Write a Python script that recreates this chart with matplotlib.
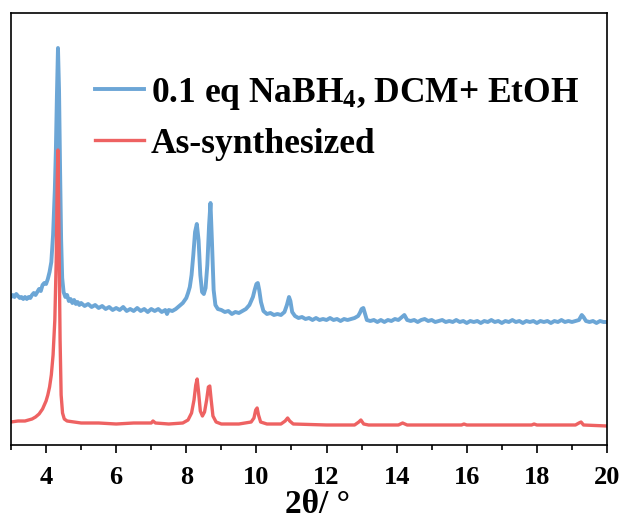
import matplotlib
matplotlib.use("Agg")
import matplotlib.pyplot as plt
from matplotlib.ticker import MultipleLocator
import numpy as np

# --------------------------------------------------------------------------------------------------
# XRD patterns (intensity in arbitrary units, stacked)
# --------------------------------------------------------------------------------------------------

blue_label = "0.1 eq NaBH$_4$, DCM+ EtOH"
red_label = "As-synthesized"

blue_2theta = [
    3.00, 3.05, 3.10, 3.15, 3.20, 3.25, 3.30, 3.35, 3.40, 3.45, 3.50, 3.55, 3.60, 3.65, 3.70,
    3.75, 3.80, 3.85, 3.90, 3.95, 4.00, 4.05, 4.10, 4.15, 4.20, 4.25, 4.28, 4.31, 4.34, 4.37,
    4.40, 4.43, 4.46, 4.50, 4.55, 4.60, 4.65, 4.70, 4.75, 4.80, 4.85, 4.90, 4.95, 5.00, 5.10,
    5.20, 5.30, 5.40, 5.50, 5.60, 5.70, 5.80, 5.90, 6.00, 6.10, 6.20, 6.30, 6.40, 6.50, 6.60,
    6.70, 6.80, 6.90, 7.00, 7.10, 7.20, 7.30, 7.40, 7.45, 7.50, 7.60, 7.70, 7.80, 7.90, 8.00,
    8.05, 8.10, 8.15, 8.20, 8.25, 8.30, 8.35, 8.40, 8.45, 8.50, 8.55, 8.60, 8.65, 8.69, 8.73,
    8.78, 8.83, 8.90, 9.00, 9.10, 9.20, 9.30, 9.40, 9.50, 9.60, 9.70, 9.80, 9.90, 9.95, 10.00,
    10.04, 10.08, 10.13, 10.20, 10.30, 10.40, 10.50, 10.60, 10.70, 10.80, 10.87, 10.93, 10.97,
    11.02, 11.10, 11.20, 11.30, 11.40, 11.50, 11.60, 11.70, 11.80, 11.90, 12.00, 12.10, 12.20,
    12.30, 12.40, 12.50, 12.60, 12.70, 12.80, 12.90, 12.95, 13.00, 13.05, 13.10, 13.15, 13.25,
    13.35, 13.45, 13.55, 13.65, 13.75, 13.85, 13.95, 14.05, 14.15, 14.22, 14.30, 14.40, 14.50,
    14.60, 14.70, 14.80, 14.90, 15.00, 15.10, 15.20, 15.30, 15.40, 15.50, 15.60, 15.70, 15.80,
    15.90, 16.00, 16.10, 16.20, 16.30, 16.40, 16.50, 16.60, 16.70, 16.80, 16.90, 17.00, 17.10,
    17.20, 17.30, 17.40, 17.50, 17.60, 17.70, 17.80, 17.90, 18.00, 18.10, 18.20, 18.30, 18.40,
    18.50, 18.60, 18.70, 18.80, 18.90, 19.00, 19.10, 19.20, 19.28, 19.33, 19.40, 19.50, 19.60,
    19.70, 19.80, 19.90, 20.00,
]
blue_counts = [
    148, 150, 148, 151, 149, 147, 148, 146, 148, 146, 148, 147, 150, 152, 150,
    153, 156, 154, 160, 162, 161, 166, 173, 183, 210, 255, 295, 350, 397, 355,
    275, 205, 167, 153, 148, 150, 144, 146, 142, 145, 141, 143, 140, 142, 139,
    141, 138, 140, 137, 139, 136, 138, 135, 137, 135, 138, 134, 136, 134, 137,
    134, 136, 133, 136, 134, 136, 133, 135, 131, 135, 134, 136, 139, 142, 147,
    152, 158, 170, 190, 213, 221, 205, 170, 153, 151, 157, 180, 220, 242, 205,
    155, 140, 136, 135, 133, 134, 131, 133, 132, 134, 136, 140, 148, 155, 161,
    162, 155, 143, 134, 131, 132, 130, 131, 130, 133, 140, 148, 144,
    133, 129, 127, 128, 126, 127, 125, 127, 125, 126, 125, 127, 125,
    126, 124, 126, 125, 126, 127, 129, 132, 136, 137, 131, 125, 124,
    125, 123, 125, 123, 125, 124, 126, 125, 128, 130, 125, 124, 125,
    123, 125, 126, 124, 125, 123, 124, 125, 123, 124, 123, 125, 123,
    124, 122, 124, 123, 124, 122, 124, 123, 125, 123, 124, 122, 124,
    123, 125, 123, 124, 122, 124, 123, 124, 122, 124, 123, 124, 122,
    124, 123, 125, 123, 124, 123, 124, 125, 130, 128, 124, 123, 124,
    122, 124, 123, 123,
]

red_2theta = [
    3.00, 3.20, 3.40, 3.60, 3.70, 3.80, 3.90, 4.00, 4.05, 4.10, 4.15, 4.20, 4.25, 4.29, 4.32,
    4.34, 4.37, 4.40, 4.43, 4.47, 4.52, 4.60, 4.80, 5.00, 5.50, 6.00, 6.50, 7.00, 7.05, 7.12,
    7.50, 7.90, 8.05, 8.15, 8.22, 8.27, 8.31, 8.35, 8.40, 8.46, 8.52, 8.58, 8.63, 8.67, 8.71,
    8.76, 8.85, 9.00, 9.50, 9.85, 9.93, 9.98, 10.02, 10.06, 10.12, 10.30, 10.70, 10.82, 10.89,
    10.95, 11.05, 12.00, 12.80, 12.92, 12.98, 13.06, 13.20, 14.05, 14.17, 14.30, 15.00, 15.85,
    15.92, 16.00, 17.00, 17.85, 17.92, 18.00, 19.10, 19.20, 19.26, 19.33, 20.00,
]
red_counts = [
    23, 24, 24, 26, 28, 31, 36, 44, 50, 58, 70, 90, 125, 185, 265,
    295, 205, 105, 50, 32, 26, 24, 23, 22, 22, 21, 22, 22, 24, 22,
    21, 22, 25, 32, 45, 60, 66, 53, 34, 29, 33, 45, 58, 59, 45,
    29, 23, 21, 21, 23, 27, 35, 37, 30, 23, 21, 21, 24, 27,
    24, 21, 20, 20, 23, 25, 21, 20, 20, 22, 20, 20, 20,
    21, 20, 20, 20, 21, 20, 20, 22, 23, 20, 19,
]

x_ticks = [4, 6, 8, 10, 12, 14, 16, 18, 20]

# --------------------------------------------------------------------------------------------------

plt.rcParams['font.family'] = ['Liberation Serif', 'DejaVu Serif']
plt.rcParams['font.weight'] = 'bold'
plt.rcParams['mathtext.fontset'] = 'custom'
plt.rcParams['mathtext.rm'] = 'Liberation Serif:bold'
plt.rcParams['mathtext.bf'] = 'Liberation Serif:bold'
plt.rcParams['mathtext.default'] = 'bf'

fig = plt.figure(figsize=(6.22, 5.20), dpi=100)
ax = fig.add_axes([11/622, 75/520, 596/622, 432/520])

ax.plot(blue_2theta, blue_counts, color='#6CA6D6', lw=2.8, label=blue_label,
        solid_joinstyle='round')
ax.plot(red_2theta, red_counts, color='#EE6262', lw=2.4, label=red_label,
        solid_joinstyle='round')

ax.set_xlim(3, 20)
ax.set_ylim(0, 432)

# Axes styling
for side in ['left', 'right', 'top', 'bottom']:
    ax.spines[side].set_linewidth(1.2)
ax.set_yticks([])
ax.set_xticks(x_ticks)
ax.xaxis.set_minor_locator(MultipleLocator(1))
ax.tick_params(axis='x', which='major', direction='out', length=6, width=1.2,
               labelsize=19, pad=9)
ax.tick_params(axis='x', which='minor', direction='out', length=3.5, width=1.2)
ax.set_xlabel('2θ/ °', fontsize=24, fontweight='bold')
ax.xaxis.set_label_coords(0.515, -0.102)

leg = ax.legend(loc='upper left', bbox_to_anchor=(0.141, 0.855), frameon=False,
                fontsize=25.5, handlelength=1.38, handletextpad=0.2, labelspacing=0.45,
                borderpad=0, borderaxespad=0)
for t in leg.get_texts():
    t.set_fontweight('bold')

plt.savefig('out.png', dpi=100)
